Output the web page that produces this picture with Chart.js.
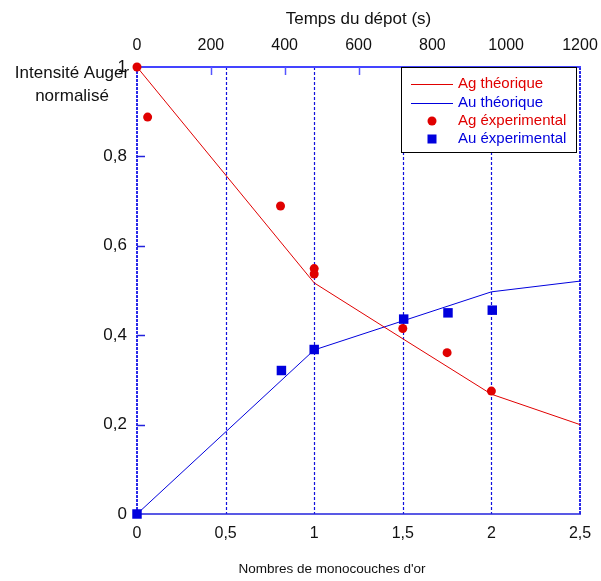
<!DOCTYPE html>
<html>
<head>
<meta charset="utf-8">
<script src="https://cdn.jsdelivr.net/npm/chart.js@4.4.0/dist/chart.umd.min.js"></script>
<style>
html,body{margin:0;padding:0;background:#fff;}
#wrap{width:601px;height:581px;}
</style>
</head>
<body>
<div id="wrap"><canvas id="c" width="601" height="581"></canvas></div>
<script>
// ---- data ----
const agTheoX = [0, 1, 1.5, 2, 2.5];
const agTheoY = [1, 0.517, 0.392, 0.268, 0.2];
const auTheoX = [0, 1, 1.5, 2, 2.5];
const auTheoY = [0, 0.367, 0.432, 0.497, 0.521];
const agExpX = [0, 0.06, 0.81, 1, 1, 1.5, 1.75, 2];
const agExpY = [1, 0.888, 0.689, 0.549, 0.537, 0.415, 0.361, 0.275];
const auExpX = [0, 0.815, 1, 1.505, 1.755, 2.005];
const auExpY = [0, 0.321, 0.368, 0.436, 0.450, 0.456];

const seriesLabels = ['Ag théorique', 'Au théorique', 'Ag éxperimental', 'Au éxperimental'];
const bottomTicks = [0, 0.5, 1, 1.5, 2, 2.5];
const topTicks = [0, 200, 400, 600, 800, 1000, 1200];
const yTicks = [0, 0.2, 0.4, 0.6, 0.8, 1];
const xTitle = "Nombres de monocouches d'or";
const topTitle = "Temps du dépot (s)";
const yTitleLines = ["Intensité Auger", "normalisé"];

const RED = '#e00000';
const BLUE = '#0000dd';
const FONT = "'Liberation Sans', Arial, sans-serif";

const pts = (xs, ys) => xs.map((x, i) => ({x: x, y: ys[i]}));
const fmt = v => String(+v.toFixed(2)).replace('.', ',');

const decor = {
  id: 'decor',
  beforeDatasetsDraw(chart) {
    const ctx = chart.ctx, ca = chart.chartArea;
    const sx = chart.scales.x, sy = chart.scales.y, st = chart.scales.x2;
    ctx.save();
    // vertical dashed grid lines
    ctx.strokeStyle = '#1010dd';
    ctx.lineWidth = 1.2;
    ctx.setLineDash([3, 2]);
    bottomTicks.forEach(v => {
      if (v <= sx.min || v >= sx.max) return;
      const px = Math.round(sx.getPixelForValue(v)) + 0.5;
      ctx.beginPath(); ctx.moveTo(px, ca.top); ctx.lineTo(px, ca.bottom); ctx.stroke();
    });
    // left & right dashed frame
    ctx.strokeStyle = '#2a2ae8';
    ctx.lineWidth = 2;
    ctx.setLineDash([3, 1]);
    ctx.beginPath(); ctx.moveTo(ca.left, ca.top); ctx.lineTo(ca.left, ca.bottom); ctx.stroke();
    ctx.beginPath(); ctx.moveTo(ca.right, ca.top); ctx.lineTo(ca.right, ca.bottom); ctx.stroke();
    ctx.setLineDash([]);
    // top & bottom solid frame
    ctx.strokeStyle = '#4444ff';
    ctx.lineWidth = 2;
    ctx.beginPath(); ctx.moveTo(ca.left, ca.top); ctx.lineTo(ca.right + 1, ca.top); ctx.stroke();
    ctx.strokeStyle = '#2222dd';
    ctx.lineWidth = 1.5;
    ctx.beginPath(); ctx.moveTo(ca.left, ca.bottom); ctx.lineTo(ca.right + 1, ca.bottom); ctx.stroke();
    // inside ticks
    ctx.strokeStyle = '#2222dd';
    ctx.lineWidth = 1.5;
    yTicks.forEach(v => {
      if (v <= sy.min || v >= sy.max) return;
      const py = Math.round(sy.getPixelForValue(v)) + 0.5;
      ctx.beginPath(); ctx.moveTo(ca.left, py); ctx.lineTo(ca.left + 8, py); ctx.stroke();
    });
    ctx.strokeStyle = '#5555ff';
    topTicks.forEach(v => {
      if (v <= st.min || v >= st.max) return;
      const px = Math.round(st.getPixelForValue(v)) + 0.5;
      ctx.beginPath(); ctx.moveTo(px, ca.top); ctx.lineTo(px, ca.top + 8); ctx.stroke();
    });
    ctx.restore();
  },
  afterDraw(chart) {
    const ctx = chart.ctx;
    ctx.save();
    // y title (horizontal, two lines)
    ctx.fillStyle = '#111';
    ctx.font = '17px ' + FONT;
    ctx.textAlign = 'center';
    ctx.textBaseline = 'middle';
    ctx.fillText(yTitleLines[0], 72, 73);
    ctx.fillText(yTitleLines[1], 72, 96);
    // bottom axis title (offset left of centre, as in the reference)
    ctx.font = '13.5px ' + FONT;
    ctx.fillText(xTitle, 332, 569);
    // legend
    const bx = 401.5, by = 67.5, bw = 175, bh = 85;
    ctx.fillStyle = '#fff';
    ctx.fillRect(bx, by, bw, bh);
    ctx.strokeStyle = '#000';
    ctx.lineWidth = 1;
    ctx.strokeRect(bx, by, bw, bh);
    const rows = [84, 103, 121, 139];
    ctx.font = '15px ' + FONT;
    ctx.textAlign = 'left';
    chart.data.datasets.forEach((ds, i) => {
      const y = rows[i];
      const col = ds.borderColor;
      if (ds.showLine) {
        ctx.strokeStyle = col; ctx.lineWidth = 1;
        ctx.beginPath(); ctx.moveTo(411, y + 0.5); ctx.lineTo(453, y + 0.5); ctx.stroke();
      } else {
        ctx.fillStyle = col;
        if (ds.pointStyle === 'rect') {
          ctx.fillRect(432 - 4.5, y - 4.5, 9, 9);
        } else {
          ctx.beginPath(); ctx.arc(432, y, 4.5, 0, Math.PI * 2); ctx.fill();
        }
      }
      ctx.fillStyle = col;
      ctx.fillText(ds.label, 458, y);
    });
    ctx.restore();
  }
};

const fixH = h => s => { s.height = h; s.paddingLeft = 0; s.paddingRight = 0; };

new Chart(document.getElementById('c'), {
  type: 'scatter',
  data: {
    datasets: [
      {label: seriesLabels[0], data: pts(agTheoX, agTheoY), showLine: true, borderColor: RED, backgroundColor: RED, borderWidth: 1, pointRadius: 0, tension: 0, clip: false},
      {label: seriesLabels[1], data: pts(auTheoX, auTheoY), showLine: true, borderColor: BLUE, backgroundColor: BLUE, borderWidth: 1, pointRadius: 0, tension: 0, clip: false},
      {label: seriesLabels[2], data: pts(agExpX, agExpY), showLine: false, borderColor: RED, backgroundColor: RED, pointStyle: 'circle', pointRadius: 4.5, borderWidth: 0, clip: false},
      {label: seriesLabels[3], data: pts(auExpX, auExpY), showLine: false, borderColor: BLUE, backgroundColor: BLUE, pointStyle: 'rect', pointRadius: 6.7, borderWidth: 0, clip: false}
    ]
  },
  options: {
    responsive: false,
    animation: false,
    devicePixelRatio: 1,
    layout: {padding: {left: 0, right: 21, top: 0, bottom: 0}},
    plugins: {legend: {display: false}, tooltip: {enabled: false}},
    scales: {
      x: {
        type: 'linear', position: 'bottom', min: 0, max: 2.5,
        afterBuildTicks: s => { s.ticks = bottomTicks.map(v => ({value: v})); },
        afterFit: fixH(67),
        grid: {display: false, drawTicks: false},
        border: {display: false},
        ticks: {callback: v => fmt(v), color: '#111', font: {family: FONT, size: 16}, padding: 10, maxRotation: 0, autoSkip: false},
        title: {display: false}
      },
      x2: {
        type: 'linear', position: 'top', min: 0, max: 1200,
        afterBuildTicks: s => { s.ticks = topTicks.map(v => ({value: v})); },
        afterFit: fixH(67),
        grid: {display: false, drawTicks: false},
        border: {display: false},
        ticks: {callback: v => String(v), color: '#111', font: {family: FONT, size: 16}, padding: 12, maxRotation: 0, autoSkip: false},
        title: {display: true, text: topTitle, color: '#111', font: {family: FONT, size: 17}, padding: {top: 9, bottom: 0}}
      },
      y: {
        type: 'linear', position: 'left', min: 0, max: 1,
        afterBuildTicks: s => { s.ticks = yTicks.map(v => ({value: v})); },
        afterFit: s => { s.width = 137; },
        grid: {display: false, drawTicks: false},
        border: {display: false},
        ticks: {callback: v => fmt(v), color: '#111', font: {family: FONT, size: 17}, padding: 10}
      }
    }
  },
  plugins: [decor]
});
</script>
</body>
</html>
